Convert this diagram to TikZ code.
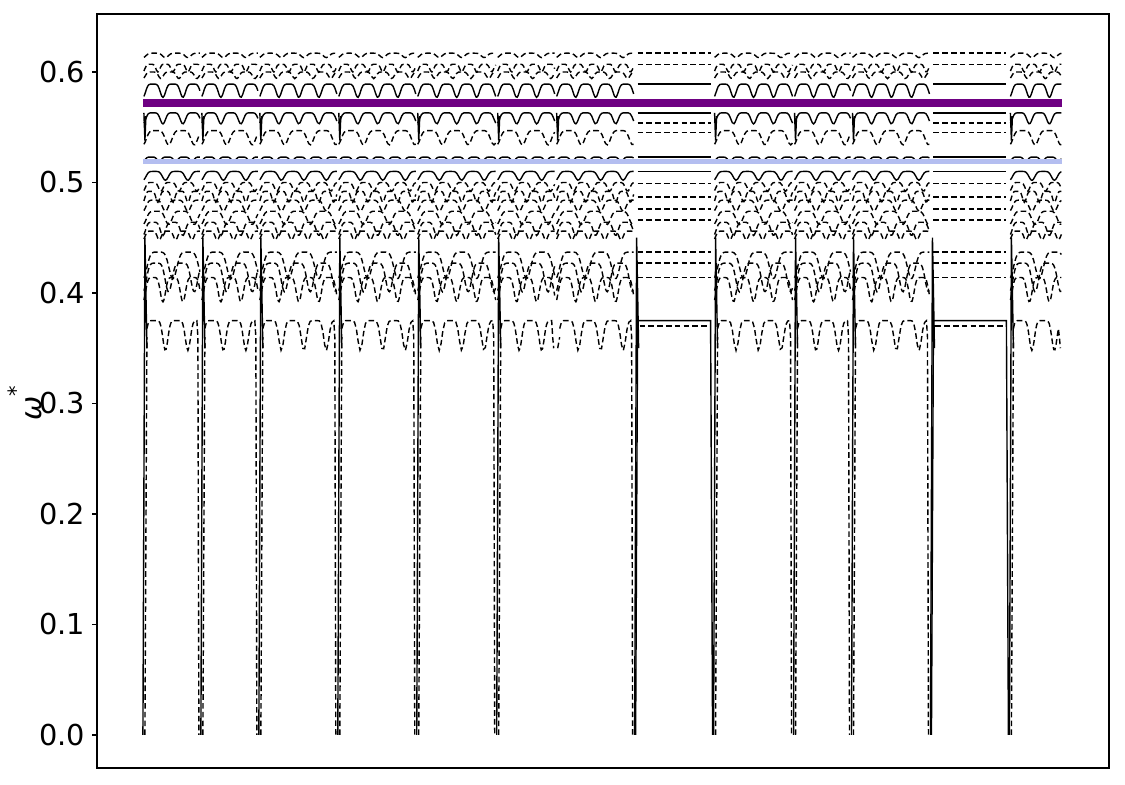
\documentclass[tikz,border=0pt]{standalone}
\usepackage{fontspec}
\setmainfont{DejaVu Sans}

\begin{document}
\begin{tikzpicture}[
kurve/.style={line width=0.4pt, black},
gestrichelt/.style={kurve, dash pattern=on 1.6pt off 0.9pt},
durchgezogen/.style={kurve},
achse/.style={line width=0.5pt, black},
]
\useasboundingbox (0,0) rectangle (11.25,7.85);

% Rahmen
\draw[achse] (0.97,0.17) rectangle (11.09,7.71);

\begin{scope}[x=0.01cm, y=11.05cm, yshift=0.5cm]
% Ticks
\foreach \i in {0,...,6} {
  \draw[achse] (97,\i/10) -- ++(-5,0);
  \node[left, inner sep=0pt, font=\fontsize{8.2}{8.2}\selectfont] (t\i) at (86,\i/10) {0.\i};
}
\node[rotate=90, font=\fontsize{8.2}{8.2}\selectfont] (lab) at (25,0.3) {\textit{ω}\raisebox{1.1ex}{\fontsize{6}{6}\selectfont *}};

% oszillierende Segmente
\foreach \a/\b/\u/\v in {143/201/0/0,201/259/0/0,259/338/0/0,338/417/0/0,417/497/0/0,497/556/0/0.35,556/635/0.35/0,714/794/0/0,794/852/0/0,852/931/0/0,1010/1063/0/0.35} {
  \foreach \l/\m/\s/\k in {0.617/0.004/gestrichelt/8,0.607/0.007/gestrichelt/12,0.600/0.006/gestrichelt/10,
      0.589/0.012/durchgezogen/9,0.563/0.010/durchgezogen/9,0.547/0.013/gestrichelt/7,
      0.523/0.004/durchgezogen/11,0.510/0.008/durchgezogen/8,0.500/0.008/gestrichelt/10,
      0.492/0.010/gestrichelt/12,0.484/0.010/gestrichelt/8,0.474/0.012/gestrichelt/7,
      0.464/0.012/gestrichelt/9,0.456/0.008/gestrichelt/11,0.437/0.024/gestrichelt/6,
      0.427/0.026/gestrichelt/7,0.414/0.022/gestrichelt/9} {
    \draw[\s] plot[domain=\a+1:\b-1, samples=45, smooth] (\x,{\l-\m*abs(cos(\k*(\x-\a)))^6});
  }
  % unteres Band
  \draw[gestrichelt] (\a+2,\u) -- (\a+4,0.36) plot[domain=\a+4:\b-4, samples=40] (\x,{0.375-0.027*abs(cos(8*(\x-\a)))^8}) -- (\b-3,0.36) -- (\b-2,\v);
  \draw[durchgezogen] (\a+1,0.563) -- (\a+2,0.538) -- (\a+3,0.56);
}

% flache Segmente
\foreach \a/\b in {635/714,931/1010} {
  \foreach \l/\s in {0.617/gestrichelt,0.607/gestrichelt,0.589/durchgezogen,0.563/durchgezogen,0.554/gestrichelt,
      0.545/gestrichelt,0.523/durchgezogen,0.510/durchgezogen,0.499/gestrichelt,0.487/gestrichelt,
      0.476/gestrichelt,0.466/gestrichelt,0.437/gestrichelt,0.427/gestrichelt,0.414/gestrichelt} {
    \draw[\s] (\a+3,\l) -- (\b-3,\l);
  }
  \draw[durchgezogen] (\a+1,0) -- (\a+3,0.375) -- (\b-3,0.375) -- (\b-1,0);
  \draw[gestrichelt] (\a+5,0.370) -- (\b-5,0.370);
}

% Spitzen nach unten
\foreach \x in {143,201,259,338,417,497,635,714,794,852,931,1010} {
  \draw[durchgezogen] (\x,0) -- (\x+2,0.45) -- (\x+4,0.35);
}

% Referenzlinien
\draw[line width=2.2pt, color={rgb,255:red,110;green,0;blue,130}] (143,0.572) -- (1063,0.572);
\draw[line width=1.2pt, color={rgb,255:red,180;green,190;blue,240}] (143,0.519) -- (1063,0.519);
\end{scope}

\end{tikzpicture}
\end{document}
